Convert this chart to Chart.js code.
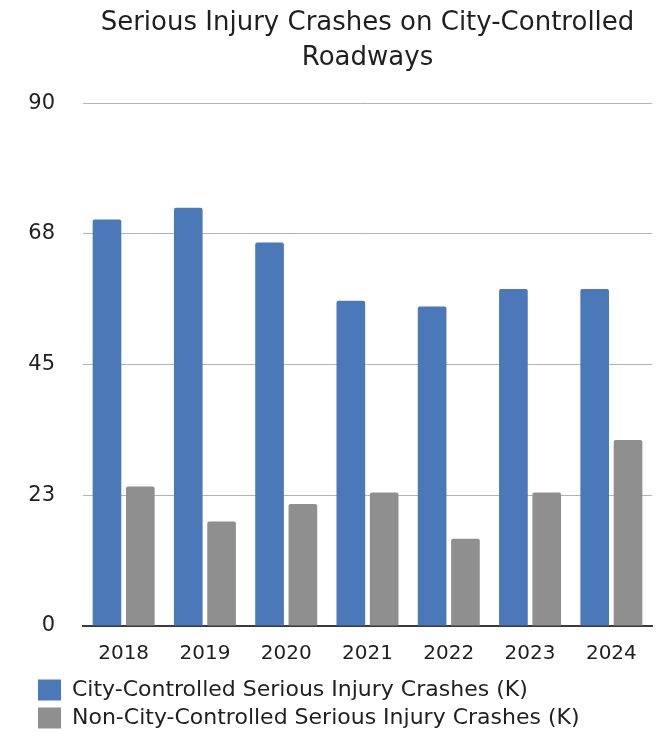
<!DOCTYPE html>
<html>
<head>
<meta charset="utf-8">
<script src="https://cdn.jsdelivr.net/npm/chart.js@4.4.1/dist/chart.umd.min.js"></script>
<style>
  html, body { margin: 0; padding: 0; background: #ffffff; }
  #wrap { width: 669px; height: 732px; }
</style>
</head>
<body>
<div id="wrap"><canvas id="c" width="669" height="732"></canvas></div>
<script>
const years = ['2018', '2019', '2020', '2021', '2022', '2023', '2024'];
const cityCrashes = [70, 72, 66, 56, 55, 58, 58];
const nonCityCrashes = [24, 18, 21, 23, 15, 23, 32];
const yTickValues = [0, 22.5, 45, 67.5, 90];
const seriesNames = [
  'City-Controlled Serious Injury Crashes (K)',
  'Non-City-Controlled Serious Injury Crashes (K)'
];
const titleLines = ['Serious Injury Crashes on City-Controlled', 'Roadways'];

const FONT = "'DejaVu Sans', sans-serif";
const TEXT = '#1f1f1f';

// Nudge the legend block right so its swatches line up with the y labels' indent
const legendIndent = {
  id: 'legendIndent',
  afterLayout(chart) {
    if (chart.legend) {
      chart.legend.left += 8;
      chart.legend.right += 8;
    }
  }
};

new Chart(document.getElementById('c'), {
  type: 'bar',
  data: {
    labels: years,
    datasets: [
      {
        label: seriesNames[0],
        data: cityCrashes,
        backgroundColor: '#4b78b8',
        borderRadius: { topLeft: 2, topRight: 2 },
        borderSkipped: 'bottom'
      },
      {
        label: seriesNames[1],
        data: nonCityCrashes,
        backgroundColor: '#8f8f8f',
        borderRadius: { topLeft: 2, topRight: 2 },
        borderSkipped: 'bottom'
      }
    ]
  },
  options: {
    responsive: false,
    animation: false,
    devicePixelRatio: 1,
    layout: { padding: { left: 24, right: 17, top: 6, bottom: -7 } },
    datasets: {
      bar: { barPercentage: 0.86, categoryPercentage: 0.82 }
    },
    scales: {
      x: {
        grid: { display: false, drawTicks: false },
        border: { display: true, color: '#3a3a3a', width: 2 },
        ticks: { color: TEXT, font: { family: FONT, size: 20 }, padding: 16 },
        afterFit: (scale) => { scale.height = scale.height - 9; }
      },
      y: {
        min: 0,
        max: 90,
        afterBuildTicks: (scale) => {
          scale.ticks = yTickValues.map(v => ({ value: v }));
        },
        afterFit: (scale) => { scale.width = 59; },
        grid: { color: '#b3b3b3', lineWidth: 1, drawTicks: false },
        border: { display: false },
        ticks: {
          color: TEXT,
          font: { family: FONT, size: 21 },
          padding: 28,
          callback: (v) => Math.round(v)
        }
      }
    },
    plugins: {
      title: {
        display: true,
        text: titleLines,
        fullSize: false,
        color: TEXT,
        font: { family: FONT, size: 26, weight: 'normal', lineHeight: 1.35 },
        padding: { top: 0, bottom: 27 }
      },
      legend: {
        display: true,
        position: 'bottom',
        align: 'start',
        labels: {
          color: TEXT,
          font: { family: FONT, size: 22 },
          boxWidth: 23,
          boxHeight: 21,
          padding: 6
        }
      },
      tooltip: { enabled: false }
    }
  },
  plugins: [legendIndent]
});
</script>
</body>
</html>
